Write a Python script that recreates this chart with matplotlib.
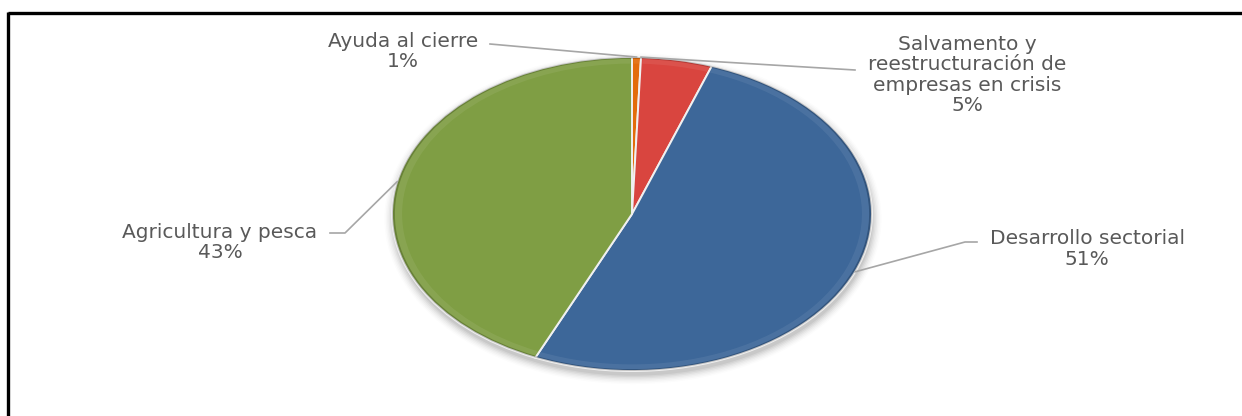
import numpy as np
import matplotlib
matplotlib.use("Agg")
import matplotlib.pyplot as plt
from matplotlib.patches import Ellipse, Wedge
from matplotlib.lines import Line2D

# Reparto de ayudas por objetivo (%)
categorias = ["Ayuda al cierre",
              "Salvamento y\nreestructuración de\nempresas en crisis",
              "Desarrollo sectorial",
              "Agricultura y pesca"]
valores = [0.6, 4.8, 51.2, 43.4]
colores = ["#e36c0a", "#d9453f", "#3d6799", "#7f9e44"]

W, H, DPI = 1242, 416, 100
fig = plt.figure(figsize=(W / DPI, H / DPI), dpi=DPI, facecolor="white")
ax = fig.add_axes([0, 0, 1, 1])

# pixel geometry of the (elliptical) pie
cx_px, cy_px = 632, 214
rx_px, ry_px = 240, 157


def to_data(px, py):
    return (px - cx_px) / rx_px, (cy_px - py) / ry_px


# soft drop shadow beneath the pie
for i, a in enumerate(np.linspace(0.05, 0.012, 7)):
    grow = 0.012 * i
    ax.add_patch(Ellipse((0.004, -0.03), 2 + grow, 2 + grow * 1.5,
                         facecolor="#000000", edgecolor="none", alpha=a, zorder=1))

wedges, _ = ax.pie(valores, colors=colores, startangle=90, counterclock=False,
                   radius=1, center=(0, 0),
                   wedgeprops=dict(edgecolor="#f0f0f0", linewidth=1.4))
for w in wedges:
    w.set_zorder(2)

# bevel: thin darker outer rim plus a faint inner highlight
for w in wedges:
    ax.add_patch(Wedge((0, 0), 1.0, w.theta1, w.theta2, width=0.012,
                       facecolor="#000000", alpha=0.18, edgecolor="none", zorder=3))
    ax.add_patch(Wedge((0, 0), 0.988, w.theta1 + 0.4, w.theta2 - 0.4, width=0.03,
                       facecolor="#ffffff", alpha=0.07, edgecolor="none", zorder=3))

ax.set_aspect("auto")
ax.set_xlim(-cx_px / rx_px, (W - cx_px) / rx_px)
ax.set_ylim(-(H - cy_px) / ry_px, cy_px / ry_px)
ax.axis("off")


def edge_point(theta_deg):
    t = np.deg2rad(theta_deg)
    return np.cos(t), np.sin(t)


def mid_angle(w):
    return 0.5 * (w.theta1 + w.theta2)


total = sum(valores)
etiquetas = [f"{c}\n{v / total * 100:.0f}%" for c, v in zip(categorias, valores)]

txt_kw = dict(color="#595959", fontsize=14.5, family=["DejaVu Sans"],
              ha="center", va="center", linespacing=1.1, zorder=5)
line_kw = dict(color="#a6a6a6", linewidth=1.2, zorder=4)

# label centres (pixels)
pos = [(403, 51.5), (967, 75), (1087, 249), (220, 242.5)]
for lab, (px, py) in zip(etiquetas, pos):
    x, y = to_data(px, py)
    ax.text(x, y, lab, **txt_kw)

# leader lines
# Ayuda al cierre
p0 = to_data(490, 44)
p1 = edge_point(mid_angle(wedges[0]))
ax.add_line(Line2D([p0[0], p1[0]], [p0[1], p1[1]], **line_kw))
# Salvamento
p0 = to_data(855, 70)
p1 = edge_point(wedges[1].theta2)
ax.add_line(Line2D([p0[0], p1[0]], [p0[1], p1[1]], **line_kw))
# Desarrollo sectorial
a = to_data(977, 242)
b = to_data(965, 242)
c = edge_point(mid_angle(wedges[2]))
ax.add_line(Line2D([a[0], b[0], c[0]], [a[1], b[1], c[1]], **line_kw))
# Agricultura y pesca
a = to_data(330, 233)
b = to_data(345, 233)
c = edge_point(mid_angle(wedges[3]))
ax.add_line(Line2D([a[0], b[0], c[0]], [a[1], b[1], c[1]], **line_kw))

# frame lines (top and left)
fig.add_artist(Line2D([8 / W, 1], [1 - 13 / H, 1 - 13 / H], color="black",
                      linewidth=2.4, transform=fig.transFigure, solid_capstyle="butt"))
fig.add_artist(Line2D([8 / W, 8 / W], [0, 1 - 12 / H], color="black",
                      linewidth=2.4, transform=fig.transFigure, solid_capstyle="butt"))

fig.savefig("out.png", dpi=DPI, facecolor="white")
